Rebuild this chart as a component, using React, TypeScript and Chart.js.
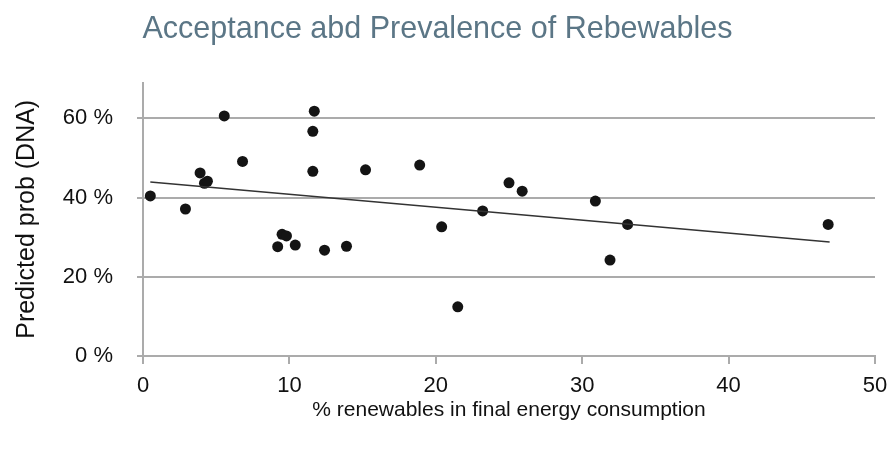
import { useEffect, useRef } from "react";
import { Chart, registerables } from "chart.js";

Chart.register(...registerables);

const TITLE = "Acceptance abd Prevalence of Rebewables";
const X_TITLE = "% renewables in final energy consumption";
const Y_TITLE = "Predicted prob (DNA)";

const renewShare = [
  0.5, 2.9, 3.9, 4.2, 4.4, 5.55, 6.8, 9.2, 9.5, 9.8, 10.4, 11.7, 11.6, 11.6,
  12.4, 13.9, 15.2, 18.9, 20.4, 21.5, 23.2, 25.0, 25.9, 30.9, 31.9, 33.1, 46.8,
];
const predictedProb = [
  40.4, 37.1, 46.2, 43.6, 44.1, 60.6, 49.1, 27.6, 30.7, 30.3, 28.0, 61.8, 56.7,
  46.6, 26.7, 27.7, 47.0, 48.2, 32.6, 12.4, 36.6, 43.7, 41.6, 39.1, 24.2, 33.2,
  33.2,
];
const trendX = [0.5, 46.9];
const trendY = [43.9, 28.8];
const xTicks = [0, 10, 20, 30, 40, 50];
const yTicks = [0, 20, 40, 60];

const FONT = "'Liberation Sans', Arial, Helvetica, sans-serif";

export default function App() {
  const ref = useRef<HTMLCanvasElement | null>(null);
  useEffect(() => {
    if (!ref.current) return;
    const chart = new Chart(ref.current, {
      type: "scatter",
      data: {
        datasets: [
          {
            type: "line",
            data: trendX.map((x, i) => ({ x, y: trendY[i] })),
            borderColor: "#333333",
            borderWidth: 1.5,
            pointRadius: 0,
            fill: false,
          },
          {
            data: renewShare.map((x, i) => ({ x, y: predictedProb[i] })),
            backgroundColor: "#141414",
            borderColor: "#141414",
            pointRadius: 5.5,
            borderWidth: 0,
          },
        ],
      },
      options: {
        responsive: false,
        animation: false,
        layout: { padding: { left: 0, right: 13, top: 0, bottom: 0 } },
        plugins: {
          legend: { display: false },
          tooltip: { enabled: false },
          title: {
            display: true,
            text: TITLE,
            color: "#5b7686",
            font: { family: FONT, size: 30.5, weight: "normal" },
            padding: { top: 11, bottom: 35 },
          },
        },
        scales: {
          x: {
            type: "linear",
            min: 0,
            max: 50,
            afterBuildTicks: (s: any) => {
              s.ticks = xTicks.map((v) => ({ value: v }));
            },
            afterFit: (s: any) => {
              s.height = 97;
              s.paddingLeft = 0;
              s.paddingRight = 0;
            },
            ticks: {
              color: "#111",
              font: { family: FONT, size: 22 },
              padding: 9,
              maxRotation: 0,
            },
            grid: {
              display: true,
              drawOnChartArea: false,
              drawTicks: true,
              tickLength: 8,
              color: "#ababab",
              lineWidth: 2,
            },
            border: { display: true, color: "#ababab", width: 2 },
            title: {
              display: true,
              text: X_TITLE,
              color: "#111",
              font: { family: FONT, size: 21 },
              padding: { top: 0, bottom: 30 },
            },
          },
          y: {
            type: "linear",
            min: 0,
            max: 69,
            afterBuildTicks: (s: any) => {
              s.ticks = yTicks.map((v) => ({ value: v }));
            },
            afterFit: (s: any) => {
              s.width = 143;
              s.paddingTop = 0;
              s.paddingBottom = 0;
            },
            ticks: {
              color: "#111",
              font: { family: FONT, size: 22 },
              padding: 24,
              callback: (v: any) => v + " %",
            },
            grid: {
              display: true,
              drawOnChartArea: true,
              drawTicks: true,
              tickLength: 6,
              color: "#ababab",
              lineWidth: 2,
            },
            border: { display: true, color: "#ababab", width: 2 },
            title: {
              display: true,
              text: Y_TITLE,
              color: "#111",
              font: { family: FONT, size: 25 },
              padding: { top: 12, bottom: 0 },
            },
          },
        },
      },
    });
    return () => chart.destroy();
  }, []);
  return (
    <div style={{ position: "fixed", left: 0, top: 0, width: 888, height: 453, background: "#fff" }}>
      <canvas ref={ref} width={888} height={453} style={{ display: "block" }} />
    </div>
  );
}
